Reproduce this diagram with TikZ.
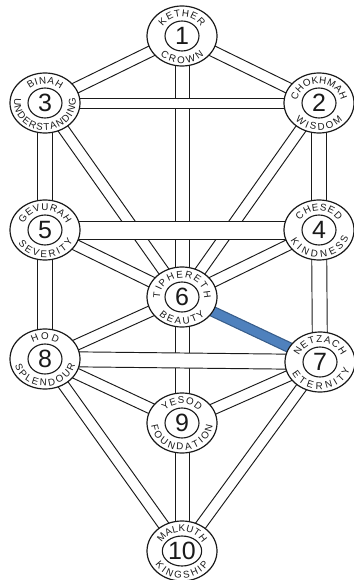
\documentclass[tikz,border=0pt]{standalone}
\usepackage{fontspec}
\setmainfont{Liberation Sans}
\usetikzlibrary{shapes.geometric,calc,decorations.text}
\pgfdeclarelayer{bg}
\pgfsetlayers{bg,main}
\definecolor{barfill}{HTML}{4F81BD}
\definecolor{baredge}{HTML}{385D8A}
\definecolor{ink}{HTML}{1A1A1A}
\tikzset{
  sephira/.style={ellipse, draw=ink, line width=1.2pt, fill=white, minimum width=70pt, minimum height=60pt, inner sep=0pt},
  core/.style={ellipse, draw=ink, line width=1.1pt, minimum width=34pt, minimum height=30pt, inner sep=0pt, font=\fontsize{25}{25}\selectfont, text=ink},
  bandline/.style={draw=ink, line width=0.95pt},
  bandfill/.style={draw=white},
  lbl/.style={decorate, decoration={text along path, text color=ink, text={|\lblfont|#1}, text align=fit to path}},
}
\newcommand\lblfont{\fontsize{9.8}{9.8}\selectfont}
\newcommand\toplbl[4]{\path[lbl={#4}] ([shift={(#2:22 and 19.3)}]#1.center) arc[start angle=#2,end angle=#3,x radius=22,y radius=19.3];}
\newcommand\botlbl[4]{\path[lbl={#4}] ([shift={(#2:30.8 and 27.2)}]#1.center) arc[start angle=#2,end angle=#3,x radius=30.8,y radius=27.2];}
\newcommand\band[3]{%
  \draw[bandline] ($(#2.center)!#1!90:(#3.center)$) -- ($(#3.center)!#1!-90:(#2.center)$);
  \draw[bandline] ($(#2.center)!#1!-90:(#3.center)$) -- ($(#3.center)!#1!90:(#2.center)$);}
\newcommand\hband[4]{%
  \draw[bandfill, line width=#2] (#3.center) -- (#4.center);
  \band{#1}{#3}{#4}}
\begin{document}
\begin{tikzpicture}[x=1pt,y=1pt]
\useasboundingbox (0,0) rectangle (353,-580);
% sephiroth
\node[sephira] (k1) at (182,-36) {};
\node[sephira] (k2) at (319,-103) {};
\node[sephira] (k3) at (45,-103) {};
\node[sephira] (k4) at (319,-230) {};
\node[sephira] (k5) at (45,-230) {};
\node[sephira] (k6) at (182,-297) {};
\node[sephira] (k7) at (320,-362) {};
\node[sephira] (k8) at (45,-359) {};
\node[sephira] (k9) at (182,-423) {};
\node[sephira] (k10) at (182,-551) {};
\node[core] (c1) at (k1) {1};
\node[core] (c2) at (k2) {2};
\node[core] (c3) at (k3) {3};
\node[core] (c4) at (k4) {4};
\node[core] (c5) at (k5) {5};
\node[core] (c6) at (k6) {6};
\node[core] (c7) at (k7) {7};
\node[core] (c8) at (k8) {8};
\node[core] (c9) at (k9) {9};
\node[core] (c10) at (k10) {10};
% labels
\toplbl{k1}{150}{30}{KETHER}
\botlbl{k1}{225}{315}{CROWN}
\toplbl{k3}{134}{46}{BINAH}
\botlbl{k3}{170}{370}{UNDERSTANDING}
\toplbl{k2}{172}{8}{CHOKHMAH}
\botlbl{k2}{220}{320}{WISDOM}
\toplbl{k5}{162}{18}{GEVURAH}
\botlbl{k5}{210}{335}{SEVERITY}
\toplbl{k4}{150}{30}{CHESED}
\botlbl{k4}{203}{344}{KINDNESS}
\toplbl{k6}{184}{-4}{TIPHERETH}
\botlbl{k6}{222}{318}{BEAUTY}
\toplbl{k8}{124}{56}{HOD}
\botlbl{k8}{193}{347}{SPLENDOUR}
\toplbl{k7}{162}{18}{NETZACH}
\botlbl{k7}{205}{345}{ETERNITY}
\toplbl{k9}{140}{40}{YESOD}
\botlbl{k9}{185}{355}{FOUNDATION}
\toplbl{k10}{156}{24}{MALKUTH}
\botlbl{k10}{210}{330}{KINGSHIP}
% paths
\begin{pgfonlayer}{bg}
\band{5.5pt}{k1}{k2}
\band{5.5pt}{k1}{k3}
\band{7pt}{k1}{k6}
\band{7.5pt}{k2}{k4}
\band{5.5pt}{k2}{k6}
\band{7.5pt}{k3}{k5}
\band{5.5pt}{k3}{k6}
\band{5.5pt}{k4}{k6}
\band{7.5pt}{k4}{k7}
\band{5.5pt}{k5}{k6}
\band{7.5pt}{k5}{k8}
\band{5.5pt}{k6}{k8}
\band{7pt}{k6}{k9}
\band{5.5pt}{k7}{k9}
\band{5.5pt}{k7}{k10}
\band{5.5pt}{k8}{k9}
\band{5.5pt}{k8}{k10}
\band{7pt}{k9}{k10}
\hband{5pt}{10pt}{k2}{k3}
\hband{9pt}{18pt}{k4}{k5}
\hband{7.5pt}{15pt}{k7}{k8}
\draw[line width=11pt, baredge] (k6.center) -- (k7.center);
\draw[line width=8.6pt, barfill] (k6.center) -- (k7.center);
\end{pgfonlayer}
\end{tikzpicture}
\end{document}
